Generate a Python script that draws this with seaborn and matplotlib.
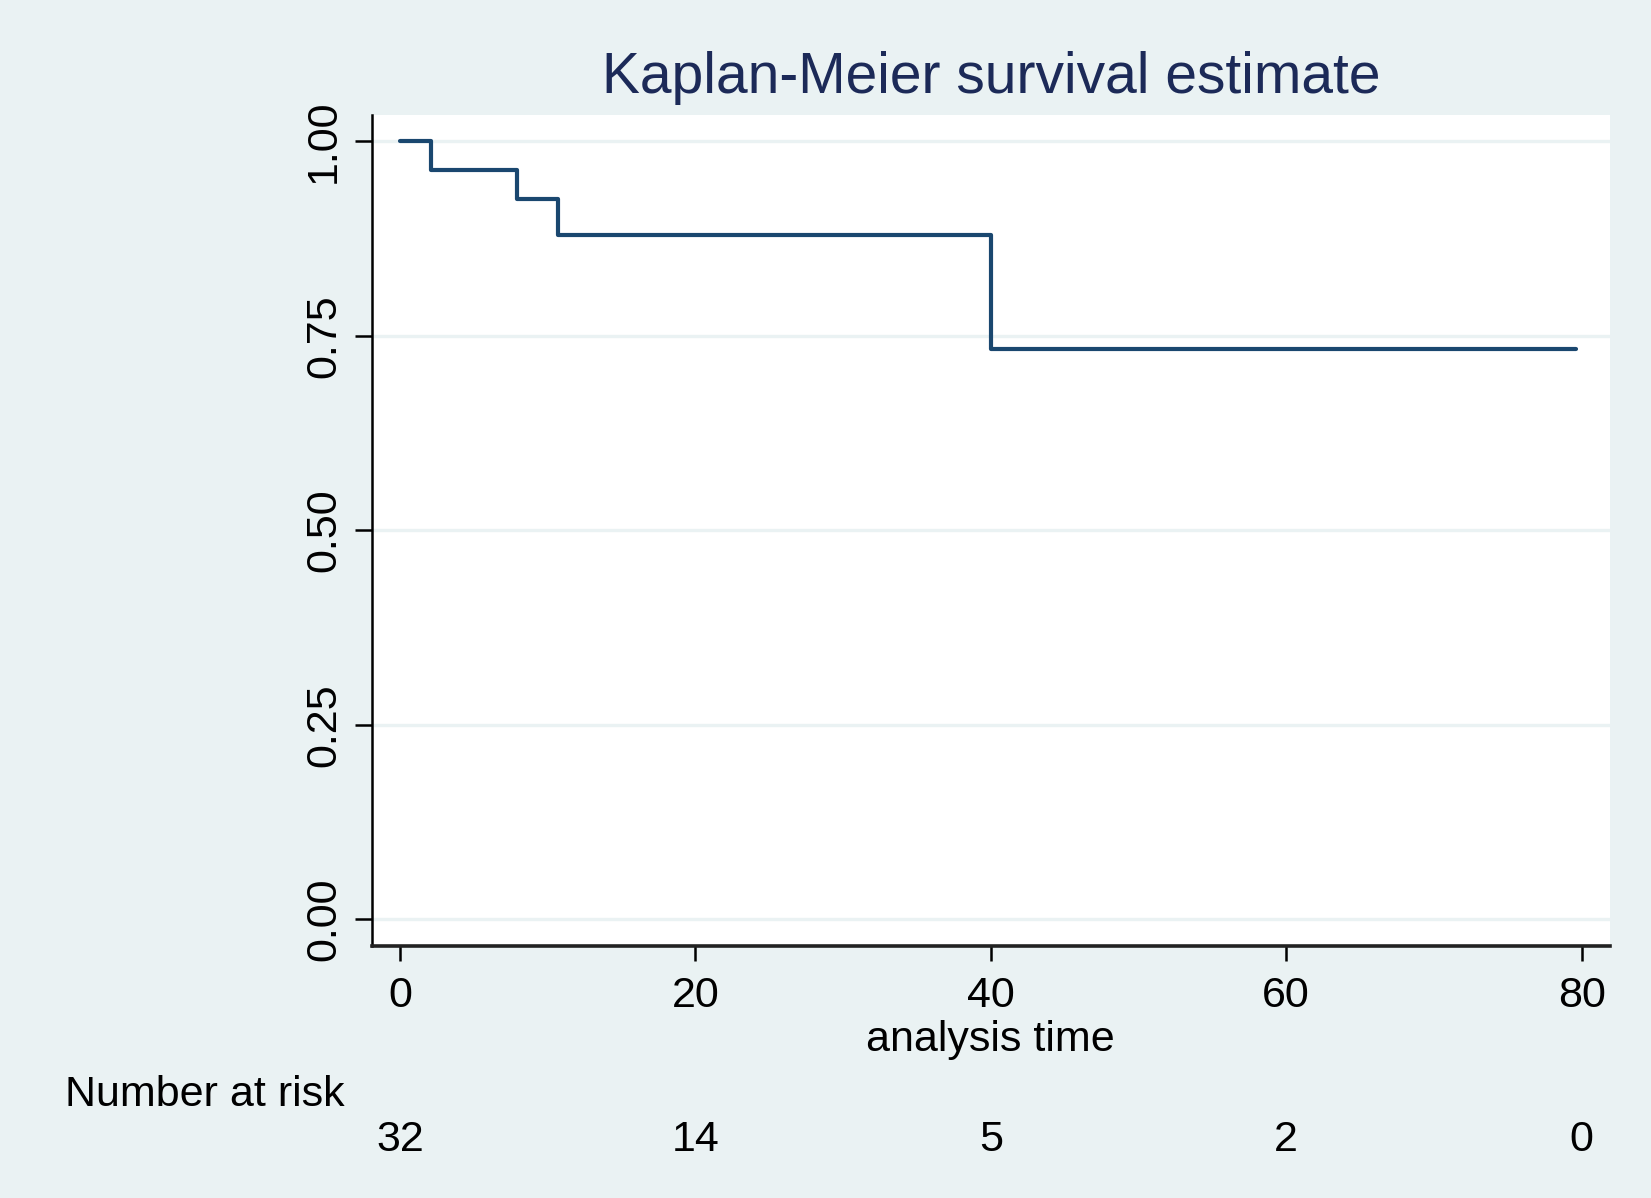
import matplotlib
matplotlib.use("Agg")
import matplotlib.pyplot as plt
import pandas as pd
import seaborn as sns

# step times and survival values
times = [0, 2.1, 7.9, 10.7, 40.0, 79.6]
survival = [1.0, 0.9635, 0.926, 0.88, 0.733, 0.733]

x_ticks = [0, 20, 40, 60, 80]
y_ticks = [0.00, 0.25, 0.50, 0.75, 1.00]
y_tick_labels = ["0.00", "0.25", "0.50", "0.75", "1.00"]
at_risk = [32, 14, 5, 2, 0]

bg = "#EAF2F3"
navy = "#1A476F"
title_col = "#1C2A58"

sns.set_style("white")
plt.rcParams["font.family"] = ["Liberation Sans", "DejaVu Sans"]
plt.rcParams["text.color"] = "black"
plt.rcParams["axes.labelcolor"] = "black"

df = pd.DataFrame({"time": times, "surv": survival})

fig = plt.figure(figsize=(16.51, 11.98), dpi=100, facecolor=bg)
ax = fig.add_axes([0.2253, 0.210, 0.975 - 0.2253, 0.904 - 0.210])
ax.set_facecolor("white")

for yv in y_ticks:
    ax.axhline(yv, color=bg, lw=2.4, zorder=0)

sns.lineplot(data=df, x="time", y="surv", ax=ax, estimator=None,
             drawstyle="steps-post", color=navy, lw=3.0, zorder=3)

ax.set_xlim(-1.89, 81.9)
ax.set_ylim(-0.035, 1.034)

ax.set_xticks(x_ticks)
ax.set_xticklabels([str(v) for v in x_ticks], fontsize=31)
ax.set_yticks(y_ticks)
ax.set_yticklabels(y_tick_labels, fontsize=31, rotation=90, va="center")

ax.tick_params(axis="x", direction="out", length=11, width=1.8, pad=10,
               bottom=True, colors="black")
ax.tick_params(axis="y", direction="out", length=12, width=1.8, pad=8,
               left=True, colors="black")

for s in ["top", "right"]:
    ax.spines[s].set_visible(False)
ax.spines["left"].set_linewidth(1.8)
ax.spines["bottom"].set_linewidth(2.6)
ax.spines["left"].set_color("black")
ax.spines["bottom"].set_color("#222222")

ax.set_xlabel("analysis time", fontsize=31, labelpad=3)
ax.set_ylabel("")

fig.text((0.2253 + 0.975) / 2, 1 - 78 / 1198, "Kaplan-Meier survival estimate",
         ha="center", va="center", fontsize=41, color=title_col)

# number at risk table
fig.text(65 / 1651, 1 - 1095 / 1198, "Number at risk", ha="left",
         va="center", fontsize=31)
for xv, n in zip(x_ticks, at_risk):
    ax.annotate(str(n), xy=(xv, 0), xycoords=("data", "axes fraction"),
                xytext=(0, -(1141 - 947) * 0.72), textcoords="offset points",
                ha="center", va="center", fontsize=31)

fig.savefig("out.png", dpi=100, facecolor=bg)
